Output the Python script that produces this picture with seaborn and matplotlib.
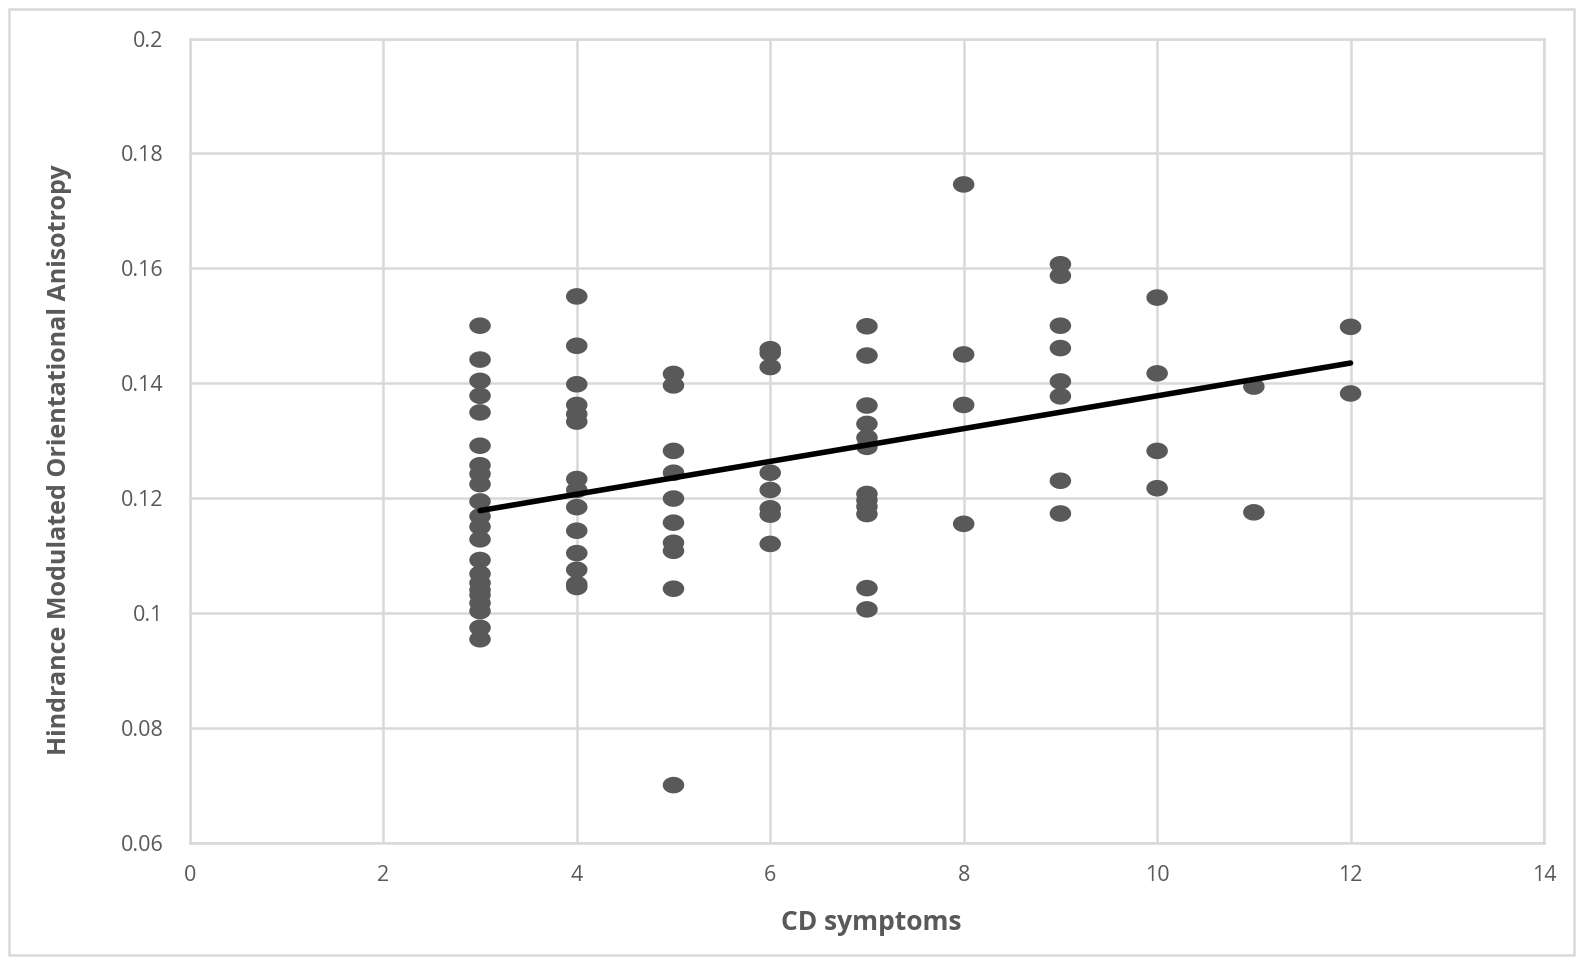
import numpy as np
import pandas as pd
import matplotlib
matplotlib.use("Agg")
import matplotlib.pyplot as plt
import seaborn as sns
from matplotlib.patches import Rectangle

# valores
x3 = [0.1500, 0.1441, 0.1404, 0.1378, 0.1349, 0.1291, 0.1257, 0.1242, 0.1224,
      0.1194, 0.1168, 0.1150, 0.1128, 0.1092, 0.1068, 0.1052, 0.1040, 0.1031,
      0.1017, 0.1003, 0.0974, 0.0954]
x4 = [0.1551, 0.1465, 0.1398, 0.1362, 0.1346, 0.1333, 0.1233, 0.1214, 0.1184,
      0.1143, 0.1104, 0.1075, 0.1050, 0.1045]
x5 = [0.1416, 0.1396, 0.1282, 0.1244, 0.1199, 0.1157, 0.1122, 0.1108, 0.1042,
      0.0700]
x6 = [0.1459, 0.1452, 0.1428, 0.1244, 0.1214, 0.1182, 0.1171, 0.1120]
x7 = [0.1499, 0.1448, 0.1361, 0.1329, 0.1305, 0.1289, 0.1207, 0.1196, 0.1185,
      0.1172, 0.1043, 0.1006]
x8 = [0.1746, 0.1450, 0.1362, 0.1155]
x9 = [0.1607, 0.1587, 0.1500, 0.1461, 0.1403, 0.1377, 0.1230, 0.1173]
x10 = [0.1549, 0.1417, 0.1282, 0.1217]
x11 = [0.1394, 0.1175]
x12 = [0.1498, 0.1382]

# línea de tendencia (extremos leídos)
trend_x = [3, 12]
trend_y = [0.1178, 0.1435]

grupos = {3: x3, 4: x4, 5: x5, 6: x6, 7: x7, 8: x8, 9: x9, 10: x10, 11: x11, 12: x12}
df = pd.DataFrame([(k, v) for k, vals in grupos.items() for v in vals],
                  columns=["cd", "hmoa"])

sns.set_style("white")
plt.rcParams["font.family"] = ["Open Sans", "DejaVu Sans"]

gris = "#595959"
grid_col = "#d9d9d9"

fig = plt.figure(figsize=(15.82, 9.64), dpi=100)
ax = fig.add_axes([0.120, 0.126, 0.856, 0.834])

# marcador elíptico (más ancho que alto)
t = np.linspace(0, 2 * np.pi, 60)
elipse = np.column_stack([1.3 * np.cos(t), np.sin(t)])

sns.scatterplot(data=df, x="cd", y="hmoa", marker=elipse, s=240,
                color=gris, edgecolor="none", ax=ax, zorder=3)
ax.plot(trend_x, trend_y, color="black", lw=4, zorder=4)

ax.set_xlim(0, 14)
ax.set_ylim(0.06, 0.2)
ax.set_xticks(np.arange(0, 15, 2))
ax.set_yticks(np.arange(0.06, 0.201, 0.02))
ax.set_yticklabels(["0.06", "0.08", "0.1", "0.12", "0.14", "0.16", "0.18", "0.2"])
ax.grid(True, color=grid_col, lw=1.8, zorder=0)
ax.set_axisbelow(True)
for s in ax.spines.values():
    s.set_color(grid_col)
    s.set_linewidth(1.8)
ax.tick_params(axis="y", length=0, labelsize=15.5, colors=gris, pad=19)
ax.tick_params(axis="x", length=0, labelsize=15.5, colors=gris, pad=16)

ax.set_xlabel("CD symptoms", fontsize=19, fontweight="bold", color=gris)
ax.xaxis.set_label_coords(0.503, -0.083)
ax.set_ylabel("Hindrance Modulated Orientational Anisotropy", fontsize=18,
              fontweight="bold", color=gris)
ax.yaxis.set_label_coords(-0.087, 0.476)

fig.patches.append(Rectangle((0.006, 0.009), 0.989, 0.982, transform=fig.transFigure,
                             fill=False, edgecolor=grid_col, lw=1.8))

fig.savefig("out.png", dpi=100)
